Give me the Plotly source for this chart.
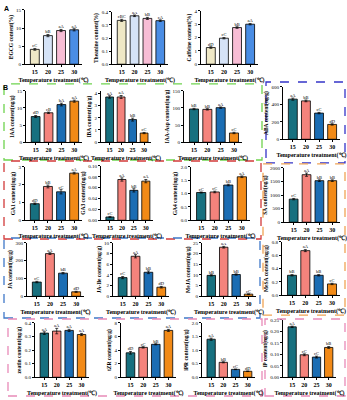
import plotly.graph_objects as go

W, H = 347, 400
temps = ["15", "20", "25", "30"]

# ---------------- data ----------------
egcg = [4.1, 7.9, 9.3, 9.5]; egcg_err = [0.25, 0.3, 0.3, 0.3]; egcg_lab = ["cC", "bB", "aA", "aA"]
theanine = [0.335, 0.37, 0.35, 0.333]; theanine_err = [0.008, 0.006, 0.008, 0.006]; theanine_lab = ["cBC", "aA", "bB", "cA"]
caffeine = [1.25, 1.95, 2.75, 3.0]; caffeine_err = [0.06, 0.05, 0.06, 0.05]; caffeine_lab = ["dD", "cC", "bB", "aA"]

iaa = [7.5, 8.6, 11.0, 12.0]; iaa_err = [0.3, 0.2, 0.4, 0.3]; iaa_lab = ["dD", "cB", "bA", "aA"]
iba = [3.7, 3.7, 1.85, 0.75]; iba_err = [0.1, 0.12, 0.12, 0.05]; iba_lab = ["aA", "aA", "bB", "cC"]
iaa_asp = [97, 96, 101, 27]; iaa_asp_err = [2, 2, 2, 2]; iaa_asp_lab = ["bB", "bB", "aA", "cC"]
aba = [460, 440, 300, 170]; aba_err = [12, 10, 8, 8]; aba_lab = ["aA", "bB", "cC", "dD"]

ga1 = [0.93, 1.9, 1.6, 2.65]; ga1_err = [0.04, 0.08, 0.12, 0.05]; ga1_lab = ["dD", "bB", "cC", "aA"]
ga3 = [0.006, 0.075, 0.055, 0.072]; ga3_err = [0.001, 0.003, 0.003, 0.003]; ga3_lab = ["cC", "aA", "bB", "aA"]
ga4 = [1.04, 1.06, 1.32, 1.63]; ga4_err = [0.02, 0.03, 0.03, 0.03]; ga4_lab = ["cC", "cC", "bB", "aA"]
sa = [850, 1750, 1530, 1530]; sa_err = [25, 60, 30, 30]; sa_lab = ["cC", "aA", "bB", "bB"]
mesa = [0.30, 0.67, 0.30, 0.17]; mesa_err = [0.01, 0.015, 0.01, 0.01]; mesa_lab = ["bB", "aA", "bB", "cC"]

ja = [80, 240, 130, 25]; ja_err = [4, 5, 4, 3]; ja_lab = ["cC", "aA", "bB", "dD"]
ja_ile = [3.5, 7.5, 4.5, 1.7]; ja_ile_err = [0.2, 0.3, 0.25, 0.15]; ja_ile_lab = ["cC", "aA", "bB", "dD"]
meja = [9.8, 23.0, 10.2, 1.0]; meja_err = [0.3, 0.4, 0.3, 0.1]; meja_lab = ["bB", "aA", "bB", "cC"]

zeatin = [0.325, 0.34, 0.345, 0.315]; zeatin_err = [0.01, 0.02, 0.008, 0.008]; zeatin_lab = ["aA", "aA", "aA", "aA"]
tzr = [3.6, 4.4, 4.85, 6.9]; tzr_err = [0.2, 0.1, 0.08, 0.15]; tzr_lab = ["dD", "cC", "bB", "aA"]
ipr = [1.4, 0.55, 0.29, 0.22]; ipr_err = [0.04, 0.02, 0.01, 0.01]; ipr_lab = ["aA", "bB", "cC", "dD"]
ip = [0.22, 0.098, 0.088, 0.13]; ip_err = [0.003, 0.004, 0.004, 0.004]; ip_lab = ["aA", "cC", "cC", "bB"]

# ---------------- styling ----------------
pal_a = ["#efe8c6", "#d5e3f7", "#f7bdd5", "#4a8de4"]
pal_b = ["#17707f", "#f4837c", "#1b6db3", "#f28a17"]
FONT = "Liberation Serif"
XT = "Temperature treatment(\u2103)"

# panel spec: (values, errors, labels, palette, ytitle, ymax, dtick, tickformat, px box (x0,x1,ytop,ybot))
panels = [
    (egcg, egcg_err, egcg_lab, pal_a, "EGCG content(%)", 15, 5, "", (25, 82, 8, 63)),
    (theanine, theanine_err, theanine_lab, pal_a, "Theanine content(%)", 0.4, 0.1, ".1f", (112, 168, 10, 63)),
    (caffeine, caffeine_err, caffeine_lab, pal_a, "Caffeine content(%)", 4, 1, "", (201, 258, 9, 63)),
    (iaa, iaa_err, iaa_lab, pal_b, "IAA content(ng/g)", 15, 5, "", (26, 82, 90, 142)),
    (iba, iba_err, iba_lab, pal_b, "IBA content(ng/g)", 4.2, 1, "", (101, 151, 90, 142)),
    (iaa_asp, iaa_asp_err, iaa_asp_lab, pal_b, "IAA-Asp content(ng/g)", 150, 50, "", (184, 242, 90, 142)),
    (aba, aba_err, aba_lab, pal_b, "ABA content(ng/g)", 600, 200, "", (283, 340, 86, 139)),
    (ga1, ga1_err, ga1_lab, pal_b, "GA1 content(ng/g)", 3, 1, "", (25, 82, 167, 221)),
    (ga3, ga3_err, ga3_lab, pal_b, "GA3 content(ng/g)", 0.1, 0.02, ".2f", (101, 153, 166, 221)),
    (ga4, ga4_err, ga4_lab, pal_b, "GA4 content(ng/g)", 2.0, 0.5, ".1f", (191, 250, 167, 221)),
    (sa, sa_err, sa_lab, pal_b, "SA content(ng/g)", 2000, 500, "", (284, 340, 168, 223)),
    (mesa, mesa_err, mesa_lab, pal_b, "MeSA content(ng/g)", 0.8, 0.2, ".1f", (282, 340, 243, 297)),
    (ja, ja_err, ja_lab, pal_b, "JA content(ng/g)", 300, 100, "", (27, 84, 244, 298)),
    (ja_ile, ja_ile_err, ja_ile_lab, pal_b, "JA-Ile content(ng/g)", 10, 2, "", (113, 169, 244, 298)),
    (meja, meja_err, meja_lab, pal_b, "MeJA content(ng/g)", 25, 5, "", (202, 256, 244, 298)),
    (zeatin, zeatin_err, zeatin_lab, pal_b, "zeatin content(ng/g)", 0.4, 0.1, ".1f", (35, 89, 325, 380)),
    (tzr, tzr_err, tzr_lab, pal_b, "tZR content(ng/g)", 8, 2, "", (121, 176, 325, 380)),
    (ipr, ipr_err, ipr_lab, pal_b, "iPR content(ng/g)", 2.0, 0.5, ".1f", (202, 255, 325, 380)),
    (ip, ip_err, ip_lab, pal_b, "iP content(ng/g)", 0.25, 0.05, ".2f", (283, 336, 322, 380)),
]

fig = go.Figure()
layout = dict(
    width=W, height=H, margin=dict(l=0, r=0, t=0, b=0),
    paper_bgcolor="white", plot_bgcolor="white", showlegend=False,
    font=dict(family=FONT, size=6, color="black"),
)

for i, (vals, errs, labs, pal, ytitle, ymax, dt, tf, box) in enumerate(panels):
    k = "" if i == 0 else str(i + 1)
    x0, x1, yt, yb = box
    fig.add_trace(go.Bar(
        x=temps, y=vals, xaxis="x" + k, yaxis="y" + k,
        marker=dict(color=pal, line=dict(color="black", width=0.8)),
        width=0.68,
        error_y=dict(type="data", array=errs, color="black", thickness=0.7, width=1.5),
    ))
    fig.add_trace(go.Scatter(
        x=temps, y=[v + e for v, e in zip(vals, errs)], xaxis="x" + k, yaxis="y" + k,
        mode="text", text=labs, textposition="top center",
        textfont=dict(family=FONT, size=4.5, color="black"),
    ))
    layout["xaxis" + k] = dict(
        domain=[x0 / W, x1 / W], anchor="y" + k, range=[-0.75, 3.6],
        showline=True, linecolor="black", linewidth=0.9, ticks="outside", ticklen=2,
        tickwidth=0.8, tickcolor="black", showgrid=False, zeroline=False,
        tickprefix="<b>", ticksuffix="</b>",
        tickfont=dict(family=FONT, size=6, color="black"),
        title=dict(text="<b>" + XT + "</b>", font=dict(family=FONT, size=6), standoff=3),
        fixedrange=True,
    )
    layout["yaxis" + k] = dict(
        domain=[1 - yb / H, 1 - yt / H], anchor="x" + k, range=[0, ymax],
        dtick=dt, tickformat=tf,
        showline=True, linecolor="black", linewidth=0.9, ticks="outside", ticklen=2,
        tickwidth=0.8, tickcolor="black", showgrid=False, zeroline=False,
        tickfont=dict(family=FONT, size=5, color="black"),
        title=dict(text="<b>" + ytitle + "</b>", font=dict(family=FONT, size=5.5), standoff=2),
        fixedrange=True,
    )

# dashed group boxes (pixel coords -> paper)
boxes = [
    (4, 262, 83, 160, "#6fd34f"),
    (266, 345, 81, 163, "#3434c8"),
    (4, 261, 161, 240, "#d23a3a"),
    (263, 345, 164, 317, "#f0a455"),
    (4, 260, 239, 320, "#3f78c8"),
    (8, 262, 321, 399, "#e88ab8"),
    (265, 345, 321, 399, "#e88ab8"),
]
shapes = []
for bx0, bx1, by0, by1, col in boxes:
    shapes.append(dict(type="rect", xref="paper", yref="paper",
                       x0=bx0 / W, x1=bx1 / W, y0=1 - by1 / H, y1=1 - by0 / H,
                       line=dict(color=col, width=1.3, dash="dash"), fillcolor="rgba(0,0,0,0)"))
layout["shapes"] = shapes
layout["annotations"] = [
    dict(text="<b>A</b>", x=2 / W, y=1 - 1 / H, xref="paper", yref="paper", xanchor="left", yanchor="top",
         showarrow=False, font=dict(family="Liberation Sans", size=7, color="black")),
    dict(text="<b>B</b>", x=1 / W, y=1 - 81 / H, xref="paper", yref="paper", xanchor="left", yanchor="top",
         showarrow=False, font=dict(family="Liberation Sans", size=7, color="black")),
]
fig.update_layout(**layout)
fig.write_html(
    "out.html",
    config={"displayModeBar": False, "responsive": False},
    post_script="document.body.style.margin='0';document.body.style.padding='0';"
                "document.body.style.overflow='hidden';",
)
